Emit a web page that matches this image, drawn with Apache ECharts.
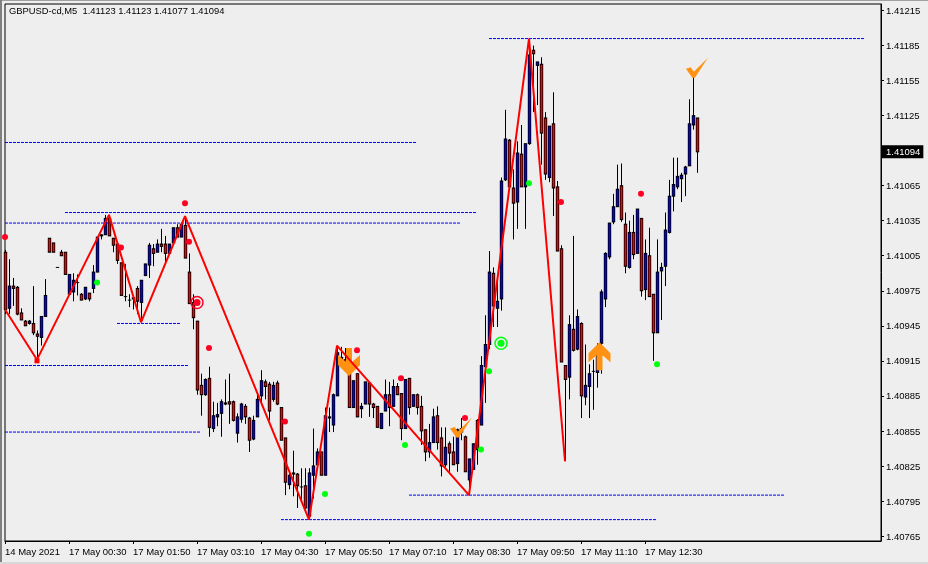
<!DOCTYPE html>
<html>
<head>
<meta charset="utf-8">
<style>html,body{margin:0;padding:0;background:#eeeeee;overflow:hidden}#c{width:928px;height:564px}</style>
<script src="https://cdn.jsdelivr.net/npm/echarts@6/dist/echarts.min.js"></script>
</head>
<body>
<div id="c"></div>
<script>
// All prices in points above 1.40000 (1.41094 -> 1094)
const opens = [
1008,960,979,978,956,949,947,947,938,935,
953,1020,1016,995,1008,1008,972,974,982,972,
968,973,977,991,1023,1023,1037,1020,1015,999,
970,967,968,977,965,988,997,1011,1008,1015,
1015,1007,1016,1029,1021,1031,991,965,949,894,
886,900,857,867,870,879,880,880,853,865,
876,866,848,867,885,897,895,882,896,875,
849,809,819,818,807,808,782,817,826,837,
817,867,860,885,918,916,904,875,904,874,
878,896,878,876,857,872,886,876,893,887,
857,900,876,886,876,856,837,845,868,849,
826,844,837,827,857,850,813,822,864,860,
910,929,990,960,968,1070,1104,1063,1051,1092,
1064,1101,1181,1168,1169,1123,1072,1118,1064,1011,
911,901,942,925,947,884,893,906,905,930,
968,1004,1034,1047,1065,1032,995,1025,1007,1037,
976,1005,972,939,992,996,1025,1056,1064,1071,
1075,1082,1117,1123];
const highs = [
1010,1002,986,979,960,950,950,979,941,953,
985,1020,1016,995,1010,1008,989,990,989,973,
978,973,997,1021,1023,1040,1040,1020,1015,999,
998,972,971,979,984,998,1016,1015,1019,1028,
1022,1015,1029,1032,1033,1039,1007,972,949,904,
900,910,880,879,882,899,904,881,870,879,
878,867,868,887,907,899,897,897,898,875,
849,819,838,819,823,823,823,857,840,837,
875,875,887,926,927,926,904,898,904,879,
897,897,879,876,870,899,897,899,896,887,
899,900,886,887,885,856,861,874,876,858,
858,846,850,857,866,851,831,844,865,919,
954,1009,995,983,1072,1130,1105,1079,1103,1117,
1101,1180,1185,1171,1175,1128,1116,1145,1069,1014,
911,954,1022,959,948,929,912,916,930,976,
1008,1033,1058,1083,1084,1042,1035,1040,1045,1037,
1019,1029,972,1019,999,1042,1070,1089,1089,1076,
1082,1139,1158,1123];
const lows = [
955,955,962,954,950,945,946,937,918,928,
953,1008,1008,995,1005,989,972,966,971,967,
967,966,973,991,1019,1023,1022,1008,998,971,
966,961,959,955,951,988,986,996,1008,1008,
998,1006,1016,1021,1021,1003,964,942,886,868,
885,850,854,859,850,877,861,863,845,862,
861,837,847,867,877,882,864,880,877,847,
800,805,799,789,796,788,779,797,826,817,
817,854,854,885,910,907,875,875,867,866,
878,867,866,858,857,872,859,876,886,847,
857,869,876,869,843,829,832,845,839,816,
824,820,826,820,847,820,806,822,826,860,
879,925,944,944,958,1069,1064,1019,1028,1064,
1028,1100,1128,1134,1083,1070,1068,1039,1009,914,
829,882,923,924,866,877,866,873,892,904,
961,1002,1032,1047,1034,990,994,1002,1007,970,
967,970,915,939,950,979,1024,1043,1062,1051,
1056,1082,1113,1076];
const closes = [
959,979,977,955,950,945,949,939,936,953,
971,1008,1008,995,1005,989,989,984,982,967,
978,968,991,1021,1022,1037,1022,1014,1001,971,
970,967,969,966,984,998,1014,1007,1015,1013,
1007,1015,1029,1021,1032,1003,964,952,890,886,
899,858,868,869,880,878,878,864,867,878,
867,847,864,882,898,893,872,894,878,847,
811,817,818,808,807,789,819,825,837,817,
868,866,886,922,915,912,875,898,867,876,
897,878,875,858,870,886,875,893,886,857,
899,875,886,875,855,837,845,867,845,825,
841,836,826,856,854,820,831,844,839,911,
929,991,962,966,1069,1105,1064,1050,1093,1064,
1101,1177,1178,1171,1110,1075,1116,1063,1009,914,
899,946,924,953,885,894,904,906,920,974,
1007,1033,1047,1062,1036,996,1025,1006,1045,975,
1007,970,939,991,995,1027,1056,1066,1073,1074,
1081,1118,1125,1094];

const xTickLabels = ['14 May 2021','17 May 00:30','17 May 01:50','17 May 03:10','17 May 04:30','17 May 05:50','17 May 07:10','17 May 08:30','17 May 09:50','17 May 11:10','17 May 12:30'];
const barsPerTick = 16;
const totalSlots = 220;
const priceTickList = [1.40765,1.40795,1.40825,1.40855,1.40885,1.40915,1.40945,1.40975,1.41005,1.41035,1.41065,1.41094,1.41125,1.41155,1.41185,1.41215];
const lastPrice = 1.41094;
const titleText = 'GBPUSD-cd,M5  1.41123 1.41123 1.41077 1.41094';

const zigzagIdx =   [0,  8,  26,  34,  45,  76,  83,  116, 131,  140];
const zigzagPrice = [959,916,1040,948, 1039,779, 928, 800, 1191, 829];

// start index, end index, price
const levelStart = [0,   0,   15,  28, 0,  0,  69, 101, 121];
const levelEnd   = [103, 114, 118, 44, 46, 49, 163, 195, 215];
const levelPrice = [1102,1033,1042,947,911,854,779, 800, 1191];

const redDotIdx =   [0,   29,  45,  46,  51, 70, 88, 99, 115, 139, 159];
const redDotPrice = [1021,1012,1050,1017,926,863,924,900,866, 1051,1058];
const greenDotIdx =   [23, 76, 80, 100,119,121,131, 163];
const greenDotPrice = [982,767,801,843,839,906,1067,912];
const redSquare = [8, 915];
const redRing = [48, 965];
const greenRing = [124, 930];
const downArrow = [86, 914];
const upArrow = [149, 919];
const checkA = [114, 858];
const checkB = [173, 1166];

const px = p => +(1.4 + p / 100000).toFixed(5);
const pts = (idx, pr) => idx.map((x, k) => [x, px(pr[k])]);

const categories = Array.from({length: totalSlots}, (_, i) =>
  (i % barsPerTick === 0 && xTickLabels[i / barsPerTick]) ? xTickLabels[i / barsPerTick] : '');
const candles = opens.map((o, i) => [i, px(o), px(closes[i]), px(lows[i]), px(highs[i])]);

const orange = '#ff9212';
const downPath = 'path://M8,0 L14,0 L14,14 L22,7 L22,17 L11,28 L0,17 L0,7 L8,14 Z';
const upPath = 'path://M11,0 L22,11 L22,20 L14,13 L14,28 L8,28 L8,13 L0,20 L0,11 Z';
const checkPath = 'path://M0,11 L4.5,9.5 L7.5,14 L21,0 L8.5,20 L6,20 Z';

function renderCandle(params, api) {
  const i = api.value(0), o = api.value(1), c = api.value(2), l = api.value(3), h = api.value(4);
  const pO = api.coord([i, o]), pC = api.coord([i, c]), pL = api.coord([i, l]), pH = api.coord([i, h]);
  const x = pO[0] + 0.5;
  const top = Math.min(pO[1], pC[1]), bot = Math.max(pO[1], pC[1]);
  const outerW = 3.4, innerW = 1.7;
  const children = [
    {type:'line', shape:{x1:x, y1:pH[1], x2:x, y2:pL[1]}, style:{stroke:'#000', lineWidth:1}, silent:true},
    {type:'rect', shape:{x:x - outerW/2, y:top - 0.5, width:outerW, height:bot - top + 1}, style:{fill:'#000'}, silent:true}
  ];
  if (bot - top > 1.5) {
    children.push({type:'rect', shape:{x:x - innerW/2, y:top + 0.6, width:innerW, height:bot - top - 1.2},
      style:{fill: c > o ? '#0000ff' : '#ff0000'}, silent:true});
  }
  return {type:'group', children};
}

const isTick = i => categories[i] !== '';
const series = [
  { type:'custom', z:2, clip:false, renderItem:renderCandle, data:candles, encode:{x:0, y:[1,2,3,4]} },
  { type:'scatter', z:3, symbol:downPath, symbolSize:[22,28], data:[[downArrow[0], px(downArrow[1])]], itemStyle:{color:orange, opacity:1} },
  { type:'scatter', z:3, symbol:upPath, symbolSize:[22,28], symbolOffset:[-1.5,0], data:[[upArrow[0], px(upArrow[1])]], itemStyle:{color:orange, opacity:1} },
  { type:'scatter', z:3, symbol:checkPath, symbolSize:[22,20], data:[[checkA[0], px(checkA[1])],[checkB[0], px(checkB[1])]], itemStyle:{color:orange, opacity:1} },
  { type:'line', z:4, data:pts(zigzagIdx, zigzagPrice), showSymbol:false, symbol:'none', clip:false,
    lineStyle:{color:'#ff0000', width:2} },
  { type:'scatter', z:5, symbol:'rect', symbolSize:5, data:[[redSquare[0], px(redSquare[1])]], itemStyle:{color:'#ff0000', opacity:1} },
  { type:'scatter', z:5, symbol:'circle', symbolSize:6, clip:false, data:pts(redDotIdx, redDotPrice), itemStyle:{color:'#ff0022', opacity:1} },
  { type:'scatter', z:5, symbol:'circle', symbolSize:6, clip:false, data:pts(greenDotIdx, greenDotPrice), itemStyle:{color:'#00ff11', opacity:1} },
  { type:'scatter', z:5, symbol:'circle', symbolSize:7, data:[[redRing[0], px(redRing[1])]], itemStyle:{color:'#ff0022', opacity:1} },
  { type:'scatter', z:5, symbol:'circle', symbolSize:12, data:[[redRing[0], px(redRing[1])]], itemStyle:{color:'transparent', borderColor:'#ff0022', borderWidth:1.5, opacity:1} },
  { type:'scatter', z:5, symbol:'circle', symbolSize:7, data:[[greenRing[0], px(greenRing[1])]], itemStyle:{color:'#00ff11', opacity:1} },
  { type:'scatter', z:5, symbol:'circle', symbolSize:12, data:[[greenRing[0], px(greenRing[1])]], itemStyle:{color:'transparent', borderColor:'#00ff11', borderWidth:1.5, opacity:1} }
];
levelPrice.forEach((p, k) => series.push({
  type:'line', z:3, showSymbol:false, symbol:'none', clip:false,
  data:[[levelStart[k], px(p)],[levelEnd[k], px(p)]],
  lineStyle:{color:'#0000ff', width:1, type:[3,1]}
}));

const chart = echarts.init(document.getElementById('c'), null, {renderer:'canvas'});
const FONT = '"Liberation Sans", Arial, sans-serif';
chart.setOption({
  animation:false,
  backgroundColor:'#eeeeee',
  title:{text:titleText, left:4, top:2, textStyle:{fontFamily:FONT, fontSize:9.4, fontWeight:'normal', color:'#000'}},
  grid:{left:5, right:47, top:4, height:537, outerBoundsMode:'none', containLabel:false, show:true, backgroundColor:'transparent', borderColor:'#000', borderWidth:1},
  xAxis:{type:'category', data:categories, boundaryGap:false,
    axisLine:{show:true, lineStyle:{color:'#000', width:1}},
    axisTick:{show:true, length:3, interval:isTick, lineStyle:{color:'#000'}},
    axisLabel:{show:true, interval:isTick, align:'left', margin:6, hideOverlap:false, color:'#000', fontFamily:FONT, fontSize:9.5},
    splitLine:{show:false}},
  yAxis:{type:'value', position:'right', min:1.407607, max:1.412206, scale:true,
    axisLine:{show:true, lineStyle:{color:'#000', width:1}},
    axisTick:{show:true, length:3, customValues:priceTickList, lineStyle:{color:'#000'}},
    axisLabel:{show:true, margin:1, color:'#000', fontFamily:FONT, fontSize:9.5, customValues:priceTickList,
      formatter:v => Math.abs(v - lastPrice) < 1e-7 ? '{cur|' + v.toFixed(5) + '}' : '{n|' + v.toFixed(5) + '}',
      rich:{
        n:{color:'#000', padding:[2,0,0,4], fontFamily:FONT, fontSize:9.5},
        cur:{color:'#fff', backgroundColor:'#000', padding:[2,3,1,4], fontFamily:FONT, fontSize:9.5}}},
    splitLine:{show:false}},
  series,
  graphic:[
    {type:'rect', shape:{x:0,y:0,width:928,height:1}, style:{fill:'#a0a0a0'}, silent:true},
    {type:'rect', shape:{x:0,y:0,width:2,height:564}, style:{fill:'#808080'}, silent:true},
    {type:'rect', shape:{x:0,y:562,width:928,height:2}, style:{fill:'#d8d8d8'}, silent:true}
  ]
});
</script>
</body>
</html>
